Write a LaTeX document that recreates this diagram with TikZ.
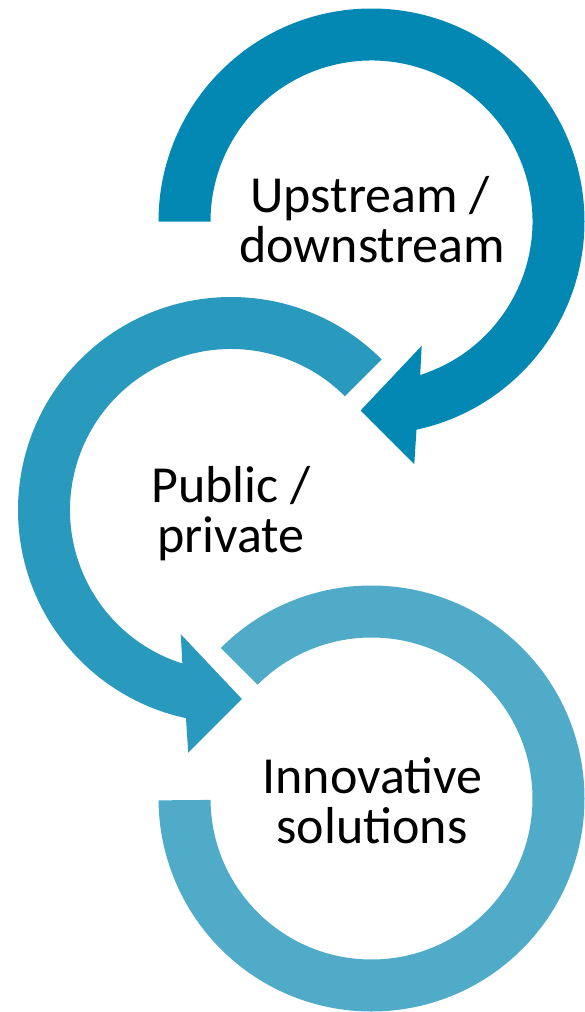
\documentclass[tikz,border=0pt]{standalone}
\usepackage{fontspec}
\setmainfont{Carlito}
\definecolor{cA}{HTML}{0288B2}
\definecolor{cB}{HTML}{2999BD}
\definecolor{cC}{HTML}{4FABC8}
\begin{document}
\begin{tikzpicture}[x=1pt,y=1pt,
  lbl/.style={font=\fontsize{52}{50}\selectfont, anchor=base, inner sep=0pt, text=black}]
\useasboundingbox (0,0) rectangle (585,-1012);
\coordinate (c1) at (371.5,-221.5);
\coordinate (c2) at (231,-510);
\coordinate (c3) at (371.5,-798.5);
% bottom ring
\fill[cC] ([shift={(135:213)}]c3) arc[start angle=135, end angle=-179.5, radius=213]
  -- ([shift={(-179.5:161)}]c3) arc[start angle=-179.5, end angle=135, radius=161] -- cycle;
% middle arrow
\fill[cB] ([shift={(45:213)}]c2) arc[start angle=45, end angle=257.8, radius=213]
  -- ([shift={(260:246.3)}]c2) -- ([shift={(273.3:189.3)}]c2) -- ([shift={(248:134)}]c2)
  -- ([shift={(252.4:161)}]c2) arc[start angle=252.4, end angle=45, radius=161] -- cycle;
% top arrow
\fill[cA] ([shift={(180:213)}]c1) arc[start angle=180, end angle=-77.8, radius=213]
  -- ([shift={(-80:246.3)}]c1) -- ([shift={(-93.3:189.3)}]c1) -- ([shift={(-68:134)}]c1)
  -- ([shift={(-72.4:161)}]c1) arc[start angle=-72.4, end angle=180, radius=161] -- cycle;
% labels
\node[lbl] (t1a) at (370,-212) {Upstream /};
\node[lbl] (t1b) at (372,-262) {downstream};
\node[lbl] (t2a) at (231,-502) {Public /};
\node[lbl] (t2b) at (231,-552) {private};
\node[lbl] (t3a) at (372.5,-793) {Innovative};
\node[lbl] (t3b) at (372,-843) {solutions};
\end{tikzpicture}
\end{document}
